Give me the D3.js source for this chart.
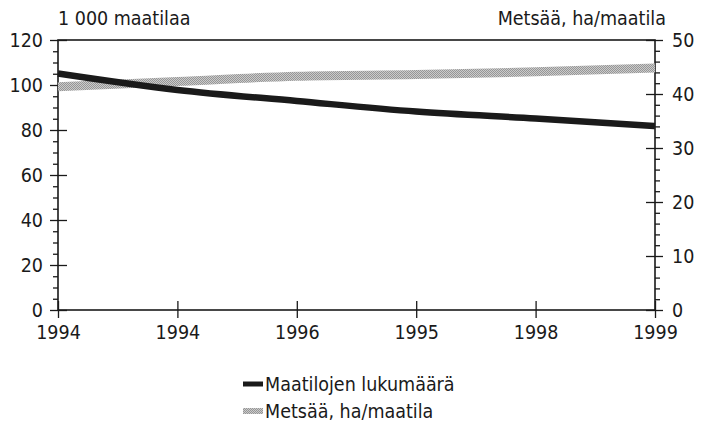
<!DOCTYPE html>
<html>
<head>
<meta charset="utf-8">
<script src="https://cdn.jsdelivr.net/npm/d3@7"></script>
<style>
  html, body { margin: 0; padding: 0; background: #fff; }
  svg { display: block; }
  text { font-family: "Liberation Sans Narrow", "DejaVu Sans Condensed", "Roboto", sans-serif; fill: #1a1a1a; }
</style>
</head>
<body>
<svg id="chart" width="705" height="426"></svg>
<script>
// Category labels along the bottom axis (as printed)
const yearLabels = ["1994", "1994", "1996", "1995", "1998", "1999"];
// Number of farms, thousands (left axis)
const farmCount = [105.1, 97.8, 92.9, 88.2, 85.1, 81.8];
// Forest area per farm, ha (right axis)
const forestPerFarm = [41.35, 42.3, 43.3, 43.6, 44.1, 44.8];

const leftTicks = [0, 20, 40, 60, 80, 100, 120];
const rightTicks = [0, 10, 20, 30, 40, 50];

const seriesNames = ["Maatilojen lukumäärä", "Metsää, ha/maatila"];
const leftTitle = "1 000 maatilaa";
const rightTitle = "Metsää, ha/maatila";

const svg = d3.select("#chart");
const m = { left: 58, right: 655, top: 40, bottom: 310 };
const ink = "#1a1a1a";
const fs = 19.5;

// dithered grey fill for the forest series
const defs = svg.append("defs");
const pat = defs.append("pattern").attr("id", "dots")
  .attr("width", 2).attr("height", 2).attr("patternUnits", "userSpaceOnUse");
pat.append("rect").attr("width", 2).attr("height", 2).attr("fill", "#cbcbcb");
pat.append("rect").attr("width", 1).attr("height", 1).attr("fill", "#969696");
pat.append("rect").attr("x", 1).attr("y", 1).attr("width", 1).attr("height", 1).attr("fill", "#969696");

const x = d3.scalePoint().domain(d3.range(yearLabels.length)).range([m.left, m.right]);
const yL = d3.scaleLinear().domain([0, 120]).range([m.bottom, m.top]);
const yR = d3.scaleLinear().domain([0, 50]).range([m.bottom, m.top]);

const axisStyle = g => {
  g.select(".domain").remove();
  g.selectAll("line").attr("stroke", ink).attr("stroke-width", 1.3);
  g.selectAll("text").attr("font-size", fs).style("font-family", "'Liberation Sans Narrow', 'DejaVu Sans Condensed', sans-serif").attr("fill", ink);
};

// frame: top rule, both spines, baseline
svg.append("rect").attr("x", m.left).attr("y", m.top)
  .attr("width", m.right - m.left).attr("height", m.bottom - m.top)
  .attr("fill", "none").attr("stroke", ink).attr("stroke-width", 1.6);

// left axis: minor ticks every 5, outward
svg.append("g").attr("transform", `translate(${m.left},0)`)
  .call(d3.axisLeft(yL).tickValues(d3.range(0, 121, 5).filter(v => v % 20)).tickSize(5).tickFormat(""))
  .call(axisStyle);
// left axis: major ticks crossing the spine
svg.append("g").attr("transform", `translate(${m.left + 9},0)`)
  .call(d3.axisLeft(yL).tickValues(leftTicks).tickSize(17))
  .call(axisStyle)
  .call(g => g.selectAll("text").attr("x", -24));

// right axis: minor every 2, outward
svg.append("g").attr("transform", `translate(${m.right},0)`)
  .call(d3.axisRight(yR).tickValues(d3.range(0, 51, 2).filter(v => v % 10)).tickSize(5).tickFormat(""))
  .call(axisStyle);
svg.append("g").attr("transform", `translate(${m.right - 9},0)`)
  .call(d3.axisRight(yR).tickValues(rightTicks).tickSize(17))
  .call(axisStyle)
  .call(g => g.selectAll("text").attr("x", 26));

// bottom axis: ticks crossing the baseline
svg.append("g").attr("transform", `translate(0,${m.bottom - 9})`)
  .call(d3.axisBottom(x).tickSize(17).tickFormat(i => yearLabels[i]))
  .call(axisStyle)
  .call(g => g.selectAll("text").attr("y", 24));

// series lines
const curve = d3.curveMonotoneX;
svg.append("path").datum(forestPerFarm)
  .attr("d", d3.line().x((d, i) => x(i)).y(d => yR(d)).curve(curve))
  .attr("fill", "none").attr("stroke", "url(#dots)").attr("stroke-width", 9);
svg.append("path").datum(farmCount)
  .attr("d", d3.line().x((d, i) => x(i)).y(d => yL(d)).curve(curve))
  .attr("fill", "none").attr("stroke", ink).attr("stroke-width", 6.5);

// axis titles
svg.append("text").attr("x", m.left).attr("y", 25).attr("font-size", fs).text(leftTitle);
svg.append("text").attr("x", 666).attr("y", 25).attr("text-anchor", "end").attr("font-size", fs).text(rightTitle);

// legend
const legend = svg.append("g");
const swatches = [{ c: ink, w: 5 }, { c: "url(#dots)", w: 6 }];
seriesNames.forEach((name, i) => {
  const yy = 384 + i * 27;
  legend.append("line").attr("x1", 243).attr("x2", 263).attr("y1", yy).attr("y2", yy)
    .attr("stroke", swatches[i].c).attr("stroke-width", swatches[i].w);
  legend.append("text").attr("x", 265).attr("y", yy + 7).attr("font-size", fs).text(name);
});
</script>
</body>
</html>
